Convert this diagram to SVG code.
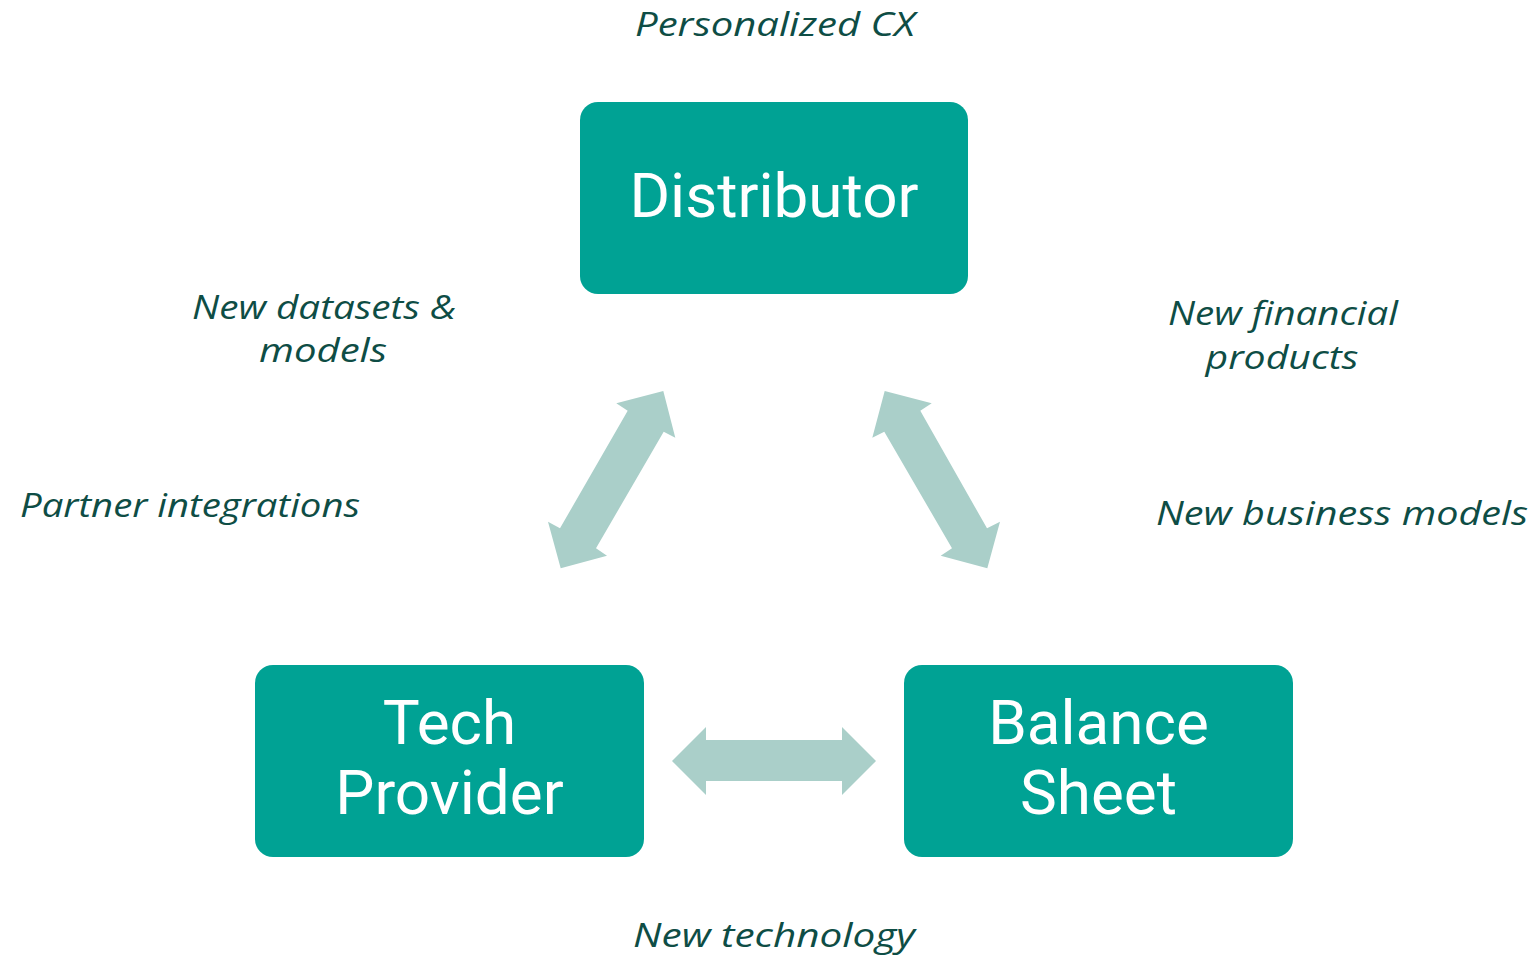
<svg xmlns="http://www.w3.org/2000/svg" width="1539" height="960" viewBox="0 0 1539 960">
<style>
.box{fill:#00a294}
.bt{font-family:Roboto,"Liberation Sans",sans-serif;font-size:62px;fill:#ffffff;text-anchor:middle}
.lb{font-family:"Open Sans","Noto Sans",sans-serif;font-style:italic;font-size:33px;fill:#0e4d45;text-anchor:middle;font-variant-ligatures:none}
.arr{fill:#aacfc9}
</style>
<rect width="1539" height="960" fill="#ffffff"/>
<g id="connectors">
<polygon class="arr" points="663.3,391 675.3,437.7 663.7,431.7 596,548.3 607,555.7 560.7,568.3 548,521.7 560,528.3 627.7,410.7 616.3,403.3"/>
<polygon class="arr" points="884.7,391 931.7,403.3 920.3,410.7 987,528.3 1000,521.7 987.3,568.3 940.7,555.7 952,548.3 884.3,431.7 872.3,437.7"/>
<polygon class="arr" points="672,761 706,727 706,740 842,740 842,727 876,761 842,795 842,781 706,781 706,795"/>
</g>
<g id="distributor">
<rect class="box" x="580" y="102" width="388" height="192" rx="18"/>
<text class="bt" x="774" y="217">Distributor</text>
</g>
<g id="tech-provider">
<rect class="box" x="255" y="665" width="389" height="192" rx="18"/>
<text class="bt" x="449.5" y="744">Tech</text>
<text class="bt" x="449.5" y="814">Provider</text>
</g>
<g id="balance-sheet">
<rect class="box" x="904" y="665" width="389" height="192" rx="18"/>
<text class="bt" x="1098.5" y="744">Balance</text>
<text class="bt" x="1098.5" y="814">Sheet</text>
</g>
<g id="labels">
<text class="lb" x="775" y="36" textLength="280" lengthAdjust="spacingAndGlyphs">Personalized CX</text>
<text class="lb" x="774" y="947" textLength="282" lengthAdjust="spacingAndGlyphs">New technology</text>
<text class="lb" x="324" y="319" textLength="264" lengthAdjust="spacingAndGlyphs">New datasets &amp;</text>
<text class="lb" x="323" y="362" textLength="128" lengthAdjust="spacingAndGlyphs">models</text>
<text class="lb" x="190" y="517" textLength="340" lengthAdjust="spacingAndGlyphs">Partner integrations</text>
<text class="lb" x="1283" y="325" textLength="230" lengthAdjust="spacingAndGlyphs">New financial</text>
<text class="lb" x="1282" y="369" textLength="153" lengthAdjust="spacingAndGlyphs">products</text>
<text class="lb" x="1342" y="525" textLength="372" lengthAdjust="spacingAndGlyphs">New business models</text>
</g>
</svg>
